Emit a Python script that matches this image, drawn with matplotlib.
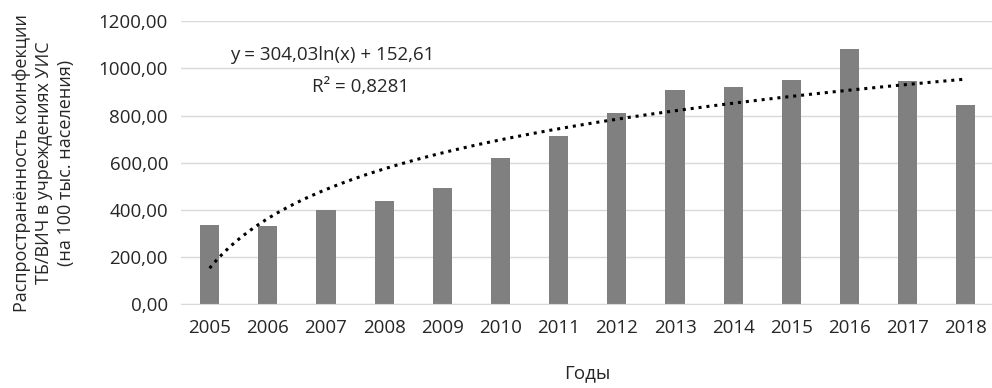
import matplotlib

matplotlib.use('Agg')

import numpy as np
import matplotlib.pyplot as plt
from matplotlib.ticker import FuncFormatter

years = ['2005', '2006', '2007', '2008', '2009', '2010', '2011',
         '2012', '2013', '2014', '2015', '2016', '2017', '2018']
values = [335, 331, 399, 437, 492, 619, 712,
          810, 907, 920, 950, 1081, 946, 844]
trend_a = 304.03
trend_b = 152.61

plt.rcParams['font.family'] = ['Open Sans', 'DejaVu Sans']
txt = '#262626'

fig, ax = plt.subplots(figsize=(9.92, 3.88), dpi=100)
fig.subplots_adjust(left=0.182, right=1.003, top=0.945, bottom=0.216)

x = np.arange(len(years))
ax.bar(x, values, width=0.33, color='#808080', zorder=2)

# logarithmic trendline, Excel style (x = 1..n)
xt = np.linspace(1, len(years), 200)
ax.plot(xt - 1, trend_a * np.log(xt) + trend_b, color='black',
        linestyle=(0, (1, 1.6)), linewidth=2.2, zorder=3)

ax.set_xlim(-0.5, len(years) - 0.5)
ax.set_ylim(0, 1200)
ax.set_yticks(np.arange(0, 1201, 200))
ax.yaxis.set_major_formatter(FuncFormatter(lambda v, p: f'{v:.2f}'.replace('.', ',')))
ax.set_xticks(x)
ax.set_xticklabels(years)
ax.grid(axis='y', color='#d9d9d9', linewidth=1, zorder=0)
for s in ['top', 'right', 'left']:
    ax.spines[s].set_visible(False)
ax.spines['bottom'].set_color('#d9d9d9')
ax.tick_params(length=0, labelsize=13.5, colors=txt)
ax.tick_params(axis='y', pad=9)
ax.tick_params(axis='x', pad=11)

ax.text(0.35, 1056, 'y = 304,03ln(x) + 152,61', fontsize=13.5, color=txt,
        ha='left', va='center')
ax.text(1.76, 920, 'R² = 0,8281', fontsize=13.5, color=txt,
        ha='left', va='center')

ax.set_ylabel('Распространённость коинфекции\nТБ/ВИЧ в учреждениях УИС\n(на 100 тыс. населения)',
              fontsize=13, color=txt, labelpad=17, linespacing=1.3)
ax.set_xlabel('Годы', fontsize=13.5, color=txt, labelpad=19)

fig.savefig('out.png')
